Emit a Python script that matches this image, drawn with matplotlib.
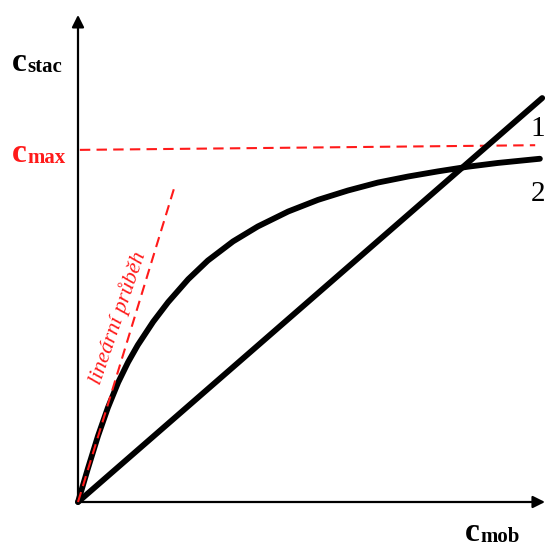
import numpy as np
import matplotlib
matplotlib.use('Agg')
import matplotlib.pyplot as plt

# values (units of c_mob / c_stac, arbitrary)
c_mob_curve = [0, 0.21, 0.43, 0.64, 0.86, 1.07, 1.28, 1.61, 1.93, 2.36, 2.78, 3.32, 3.85,
               4.50, 5.14, 5.78, 6.42, 7.07, 7.71, 8.35, 8.99, 9.89]
c_stac_curve = [0, 0.71, 1.42, 2.02, 2.56, 2.99, 3.36, 3.86, 4.28, 4.77, 5.17, 5.58, 5.90,
                6.22, 6.47, 6.67, 6.84, 6.97, 7.08, 7.18, 7.26, 7.35]

c_mob_line = [0, 9.94]
c_stac_line = [0, 8.65]

# c_max horizontal level and the linear (initial slope) tangent
cmax_x = [0.04, 9.79]
cmax_y = [7.54, 7.64]
tangent_x = [0, 2.08]
tangent_y = [0, 6.79]

axis_end_x = 10.0
axis_end_y = 10.43

serif = 'Liberation Serif'
red = '#ff1a1a'

fig = plt.figure(figsize=(5.45, 5.49), dpi=100)
ax = fig.add_axes([0, 0, 1, 1])
# 1 unit = 46.7 px, origin at pixel (78, 502)
ax.set_xlim(-78 / 46.7, 467 / 46.7)
ax.set_ylim(-47 / 46.7, 502 / 46.7)
ax.axis('off')

# axes with arrows
ax.annotate('', xy=(0, axis_end_y), xytext=(0, 0),
            arrowprops=dict(arrowstyle='-|>', lw=1.6, color='black', mutation_scale=18, shrinkA=0, shrinkB=0))
ax.annotate('', xy=(axis_end_x, 0), xytext=(0, 0),
            arrowprops=dict(arrowstyle='-|>', lw=1.6, color='black', mutation_scale=18, shrinkA=0, shrinkB=0))

# red dashed helper lines
ax.plot(cmax_x, cmax_y, color=red, lw=1.5, ls=(0, (5, 3)))
ax.plot(tangent_x, tangent_y, color=red, lw=1.5, ls=(0, (5, 3)), zorder=4)

# isotherms
ax.plot(c_mob_line, c_stac_line, color='black', lw=4.2, solid_capstyle='round', zorder=3)
ax.plot(c_mob_curve, c_stac_curve, color='black', lw=4.2, solid_capstyle='round',
        solid_joinstyle='round', zorder=3)

# labels
ax.text(-1.42, 9.22, 'c', fontfamily=serif, fontweight='bold', fontsize=24, color='black')
ax.text(-1.08, 9.20, 'stac', fontfamily=serif, fontweight='bold', fontsize=15, color='black')
ax.text(-1.42, 7.27, 'c', fontfamily=serif, fontweight='bold', fontsize=24, color=red)
ax.text(-1.08, 7.25, 'max', fontfamily=serif, fontweight='bold', fontsize=15, color=red)
ax.text(8.28, -0.84, 'c', fontfamily=serif, fontweight='bold', fontsize=24, color='black')
ax.text(8.62, -0.86, 'mob', fontfamily=serif, fontweight='bold', fontsize=15, color='black')

ax.text(9.85, 7.99, '1', fontfamily=serif, fontsize=21, ha='center', va='center')
ax.text(9.85, 6.59, '2', fontfamily=serif, fontsize=21, ha='center', va='center')

ax.text(0.86, 3.95, 'lineární průběh', fontfamily=serif, fontstyle='italic', fontsize=16,
        color=red, rotation=71, ha='center', va='center', rotation_mode='anchor')

fig.savefig('out.png', dpi=100)
